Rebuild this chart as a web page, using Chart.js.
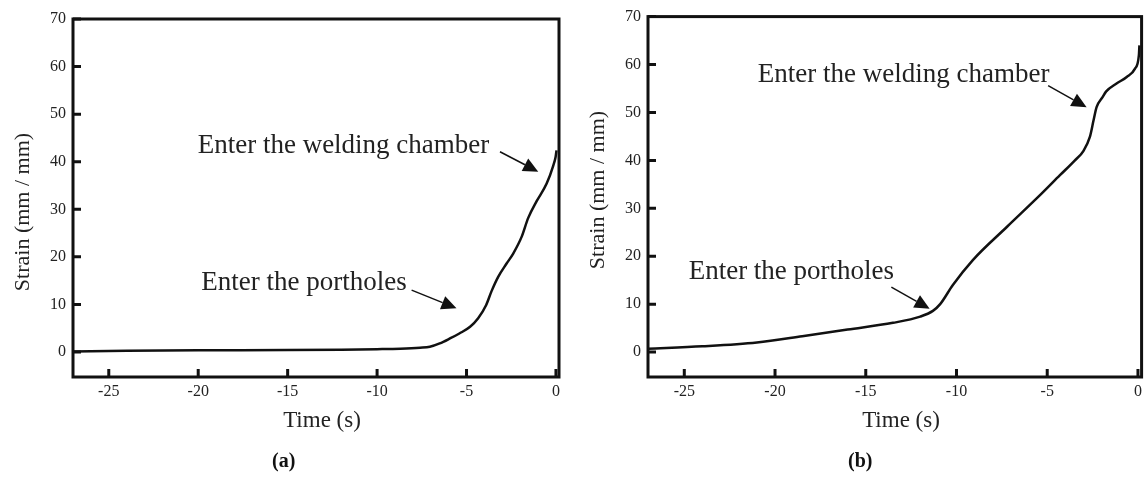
<!DOCTYPE html>
<html>
<head>
<meta charset="utf-8">
<script src="https://cdn.jsdelivr.net/npm/chart.js@4.4.1/dist/chart.umd.min.js"></script>
<style>
  html, body { margin: 0; padding: 0; background: #fff; }
  #wrap { position: relative; width: 1147px; height: 477px; overflow: hidden; }
  canvas { position: absolute; top: 0; }
  #cv-a { left: 0; }
  #cv-b { left: 573px; }
  .tag { position: absolute; top: 449px; font: bold 20px "Liberation Serif", serif; color: #111; }
  #tag-a { left: 272px; }
  #tag-b { left: 848px; }
</style>
</head>
<body>
<div id="wrap">
  <canvas id="cv-a" width="573" height="477"></canvas>
  <canvas id="cv-b" width="574" height="477"></canvas>
  <div class="tag" id="tag-a">(a)</div>
  <div class="tag" id="tag-b">(b)</div>
</div>
<script>
// tick labels
const xTickValues = [-25, -20, -15, -10, -5, 0];
const yTickValues = [0, 10, 20, 30, 40, 50, 60, 70];

// (a) strain vs time
const timeA   = [-27, -24, -20, -15, -12, -10, -8.7, -7.6, -7.05, -6.5, -5.9, -5.4, -4.8, -4.35, -3.9, -3.6, -3.23, -2.76, -2.39, -1.92, -1.55, -1.08, -0.52, -0.15, -0.02, 0.03];
const strainA = [0.1, 0.25, 0.35, 0.4, 0.5, 0.6, 0.7, 0.9, 1.1, 1.8, 2.9, 3.9, 5.3, 7.1, 9.9, 12.8, 15.8, 18.6, 20.7, 24.2, 28.2, 31.7, 35.4, 39.2, 41.0, 42.4];

// (b) strain vs time
const timeB   = [-27, -24, -21, -18.5, -16, -13.5, -12, -11.3, -10.9, -10.2, -9.1, -7.2, -5.3, -4.3, -3.5, -3.0, -2.65, -2.45, -2.28, -1.95, -1.75, -1.2, -0.62, -0.17, 0.05, 0.08];
const strainB = [0.7, 1.2, 2.0, 3.3, 4.7, 6.1, 7.4, 8.6, 10.0, 14.0, 19.2, 26.2, 33.1, 36.9, 39.9, 42.0, 44.9, 48.3, 51.1, 53.2, 54.4, 56.0, 57.4, 59.1, 61.9, 64];

// annotation text and arrows, in data units
const notesA = [
  { text: 'Enter the welding chamber', at: [-20.03, 41.8], from: [-3.13, 42.1], to: [-0.99, 37.9] },
  { text: 'Enter the portholes', at: [-19.83, 13.0], from: [-8.07, 13.0], to: [-5.56, 9.2] }
];
const notesB = [
  { text: 'Enter the welding chamber', at: [-20.95, 56.4], from: [-4.95, 55.6], to: [-2.83, 51.1] },
  { text: 'Enter the portholes', at: [-24.76, 15.3], from: [-13.59, 13.55], to: [-11.48, 9.05] }
];

const serif = '"Liberation Serif", "Times New Roman", serif';

const framePlugin = {
  id: 'frame',
  afterDatasetsDraw(chart, args, opts) {
    const ctx = chart.ctx;
    const a = chart.chartArea;
    const xs = chart.scales.x;
    const ys = chart.scales.y;
    ctx.save();
    ctx.strokeStyle = '#111';
    ctx.lineWidth = 3;
    ctx.strokeRect(a.left, a.top, a.right - a.left, a.bottom - a.top);
    ctx.beginPath();
    xs.ticks.forEach(t => {
      const px = xs.getPixelForValue(t.value);
      ctx.moveTo(px, a.bottom);
      ctx.lineTo(px, a.bottom - 8);
    });
    ys.ticks.forEach(t => {
      const py = ys.getPixelForValue(t.value);
      ctx.moveTo(a.left, py);
      ctx.lineTo(a.left + 8, py);
    });
    ctx.stroke();

    // axis titles
    ctx.fillStyle = '#222';
    ctx.font = '23px ' + serif;
    ctx.textAlign = 'center';
    ctx.textBaseline = 'middle';
    ctx.fillText('Time (s)', opts.xTitle[0], opts.xTitle[1]);
    ctx.font = '22px ' + serif;
    ctx.save();
    ctx.translate(opts.yTitle[0], opts.yTitle[1]);
    ctx.rotate(-Math.PI / 2);
    ctx.fillText('Strain (mm / mm)', 0, 0);
    ctx.restore();

    // notes with arrows
    ctx.font = '27px ' + serif;
    ctx.textAlign = 'left';
    ctx.textBaseline = 'alphabetic';
    opts.notes.forEach(n => {
      ctx.fillStyle = '#222';
      ctx.fillText(n.text, xs.getPixelForValue(n.at[0]), ys.getPixelForValue(n.at[1]));
      const x0 = xs.getPixelForValue(n.from[0]), y0 = ys.getPixelForValue(n.from[1]);
      const x1 = xs.getPixelForValue(n.to[0]), y1 = ys.getPixelForValue(n.to[1]);
      const ang = Math.atan2(y1 - y0, x1 - x0);
      const head = 15, half = 7;
      const bx = x1 - head * Math.cos(ang), by = y1 - head * Math.sin(ang);
      ctx.strokeStyle = '#111';
      ctx.lineWidth = 1.5;
      ctx.beginPath();
      ctx.moveTo(x0, y0);
      ctx.lineTo(bx, by);
      ctx.stroke();
      ctx.fillStyle = '#111';
      ctx.beginPath();
      ctx.moveTo(x1, y1);
      ctx.lineTo(bx + half * Math.sin(ang), by - half * Math.cos(ang));
      ctx.lineTo(bx - half * Math.sin(ang), by + half * Math.cos(ang));
      ctx.closePath();
      ctx.fill();
    });
    ctx.restore();
  }
};

function makeChart(id, times, strains, cfg) {
  const points = times.map((t, i) => ({ x: t, y: strains[i] }));
  return new Chart(document.getElementById(id), {
    type: 'line',
    data: {
      datasets: [{
        data: points,
        borderColor: '#111',
        borderWidth: 2.5,
        pointRadius: 0,
        fill: false,
        cubicInterpolationMode: 'monotone'
      }]
    },
    options: {
      responsive: false,
      animation: false,
      layout: { padding: { top: cfg.top, right: cfg.right, left: 0, bottom: 0 } },
      plugins: {
        legend: { display: false },
        tooltip: { enabled: false },
        frame: { notes: cfg.notes, xTitle: cfg.xTitle, yTitle: cfg.yTitle }
      },
      scales: {
        x: {
          type: 'linear',
          min: -27,
          max: cfg.xMax,
          grid: { display: false, drawTicks: false },
          border: { display: false },
          afterBuildTicks: s => { s.ticks = xTickValues.map(v => ({ value: v })); },
          afterFit: s => { s.height = 100; },
          ticks: { autoSkip: false, maxRotation: 0, padding: 5, color: '#222', font: { family: serif, size: 16 } }
        },
        y: {
          min: cfg.yMin,
          max: 70,
          grid: { display: false, drawTicks: false },
          border: { display: false },
          afterBuildTicks: s => { s.ticks = yTickValues.map(v => ({ value: v })); },
          afterFit: s => { s.width = cfg.left; },
          ticks: { autoSkip: false, padding: 7, color: '#222', font: { family: serif, size: 16 } }
        }
      }
    },
    plugins: [framePlugin]
  });
}

makeChart('cv-a', timeA, strainA, {
  top: 19, right: 14, left: 73, xMax: 0.17, yMin: -5.25,
  notes: notesA, xTitle: [322, 421], yTitle: [23, 212]
});
makeChart('cv-b', timeB, strainB, {
  top: 16, right: 5, left: 75, xMax: 0.2, yMin: -5.2,
  notes: notesB, xTitle: [328, 421], yTitle: [25, 190]
});
</script>
</body>
</html>
